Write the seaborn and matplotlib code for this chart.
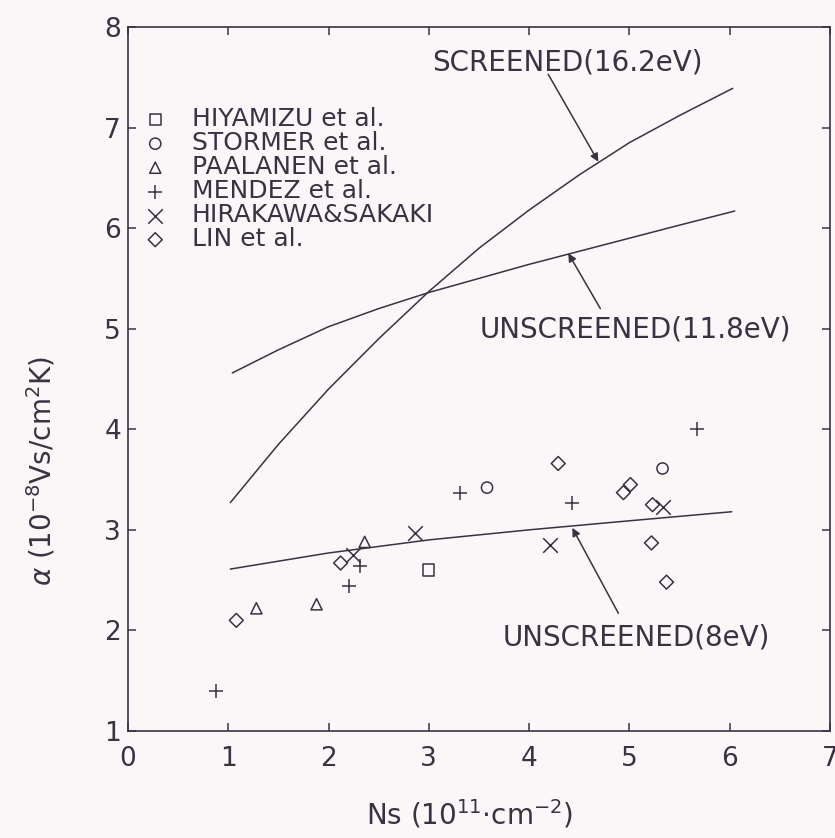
import matplotlib
matplotlib.use("Agg")
import matplotlib.pyplot as plt
import seaborn as sns
import pandas as pd

# ---------------- data ----------------
x_ticks = [0, 1, 2, 3, 4, 5, 6, 7]
y_ticks = [1, 2, 3, 4, 5, 6, 7, 8]

screened_x = [1.02, 1.5, 2.0, 2.5, 3.0, 3.5, 4.0, 4.5, 5.0, 5.5, 6.03]
screened_y = [3.27, 3.85, 4.40, 4.90, 5.37, 5.80, 6.18, 6.53, 6.85, 7.12, 7.39]

unscr118_x = [1.04, 1.5, 2.0, 2.5, 3.0, 3.5, 4.0, 4.5, 5.0, 5.5, 6.05]
unscr118_y = [4.56, 4.79, 5.02, 5.20, 5.36, 5.50, 5.64, 5.77, 5.90, 6.03, 6.17]

unscr8_x = [1.02, 2.0, 3.0, 4.0, 5.0, 6.02]
unscr8_y = [2.61, 2.77, 2.90, 3.00, 3.09, 3.18]

hiyamizu_x = [3.00]
hiyamizu_y = [2.60]
stormer_x = [3.58, 5.33]
stormer_y = [3.42, 3.61]
paalanen_x = [1.28, 1.88, 2.36]
paalanen_y = [2.22, 2.26, 2.88]
mendez_x = [0.88, 2.20, 2.31, 3.31, 4.43, 5.67]
mendez_y = [1.40, 2.44, 2.64, 3.37, 3.27, 4.00]
hirakawa_x = [2.24, 2.86, 4.21, 5.33]
hirakawa_y = [2.75, 2.97, 2.85, 3.23]
lin_x = [1.08, 2.12, 4.29, 4.94, 5.01, 5.23, 5.22, 5.37]
lin_y = [2.10, 2.67, 3.66, 3.37, 3.45, 3.25, 2.87, 2.48]

groups = [
    ("HIYAMIZU et al.", hiyamizu_x, hiyamizu_y, "s"),
    ("STORMER et al.", stormer_x, stormer_y, "o"),
    ("PAALANEN et al.", paalanen_x, paalanen_y, "^"),
    ("MENDEZ et al.", mendez_x, mendez_y, "+"),
    ("HIRAKAWA&SAKAKI", hirakawa_x, hirakawa_y, "x"),
    ("LIN et al.", lin_x, lin_y, "D"),
]

# ---------------- style ----------------
sns.set_style("ticks")
plt.rcParams["font.family"] = ["DejaVu Sans"]
plt.rcParams["mathtext.fontset"] = "dejavusans"

ink = "#3a3142"
bg = "#fbf7f8"

fig = plt.figure(figsize=(8.35, 8.38), dpi=100, facecolor=bg)
ax = fig.add_axes([0.1533, 0.1277, 0.8407, 0.8401])
ax.set_facecolor(bg)

for xs, ys in [(screened_x, screened_y), (unscr118_x, unscr118_y), (unscr8_x, unscr8_y)]:
    sns.lineplot(x=xs, y=ys, ax=ax, color=ink, lw=1.1, sort=False)

for name, xs, ys, m in groups:
    df = pd.DataFrame({"x": xs, "y": ys})
    if m in ("+", "x"):
        sns.scatterplot(data=df, x="x", y="y", marker=m, s=110, color=ink,
                        linewidth=1.1, label=name, ax=ax)
    else:
        sns.scatterplot(data=df, x="x", y="y", marker=m, s=65 if m != "D" else 50,
                        facecolor="none", edgecolor=ink, linewidth=1.1,
                        label=name, ax=ax)

ax.set_xlim(0, 7)
ax.set_ylim(1, 8)
ax.set_xticks(x_ticks)
ax.set_yticks(y_ticks)
ax.set_xticklabels([str(t) for t in x_ticks])
ax.set_yticklabels([str(t) for t in y_ticks])
ax.tick_params(direction="in", top=True, right=True, length=6, width=1.1,
               colors=ink, labelsize=19)
ax.tick_params(axis="x", pad=11)
ax.tick_params(axis="y", pad=5)
for sp in ax.spines.values():
    sp.set_visible(True)
    sp.set_color(ink)
    sp.set_linewidth(1.2)

ax.set_xlabel(r"Ns (10$^{11}$$\cdot$cm$^{-2}$)", fontsize=20, color=ink)
ax.set_ylabel(r"$\alpha$ (10$^{-8}$Vs/cm$^{2}$K)", fontsize=20, color=ink)
ax.xaxis.set_label_coords(0.487, -0.095)
ax.yaxis.set_label_coords(-0.10, 0.37)

arrow = dict(arrowstyle="-|>", color=ink, lw=1.1, mutation_scale=12,
             shrinkA=0, shrinkB=0)
ax.annotate("", xy=(4.69, 6.66), xytext=(4.19, 7.53), arrowprops=arrow)
ax.text(3.03, 7.65, "SCREENED(16.2eV)", fontsize=20, color=ink, va="center", ha="left")
ax.annotate("", xy=(4.39, 5.75), xytext=(4.71, 5.20), arrowprops=arrow)
ax.text(3.51, 4.99, "UNSCREENED(11.8eV)", fontsize=20, color=ink, va="center", ha="left")
ax.annotate("", xy=(4.43, 3.02), xytext=(4.89, 2.17), arrowprops=arrow)
ax.text(3.74, 1.93, "UNSCREENED(8eV)", fontsize=20, color=ink, va="center", ha="left")

handles, labels = ax.get_legend_handles_labels()
leg = ax.legend(handles, labels, loc="upper left", bbox_to_anchor=(0.021, 0.886),
                frameon=False, fontsize=18, handlelength=1.0, handletextpad=0.96,
                labelspacing=0.0, borderpad=0, borderaxespad=0)
for t in leg.get_texts():
    t.set_color(ink)

fig.savefig("out.png", dpi=100, facecolor=bg)
